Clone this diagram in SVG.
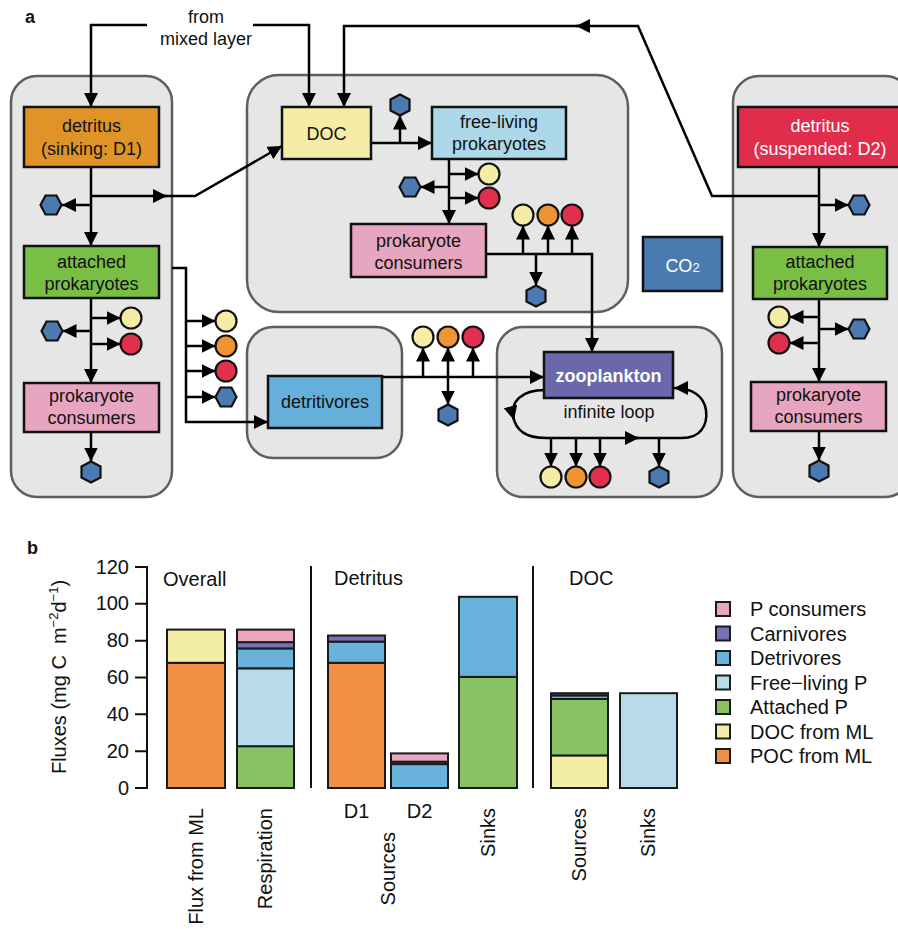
<svg xmlns="http://www.w3.org/2000/svg" xmlns:xlink="http://www.w3.org/1999/xlink" width="898" height="929" viewBox="0 0 898 929">
<style>
text{font-family:"Liberation Sans",Arial,sans-serif;fill:#111}
.t{font-size:18px;text-anchor:middle}
.w{fill:#fff}
.b{font-weight:bold}
.cont{fill:#e6e6e6;stroke:#5e5e5e;stroke-width:2.5}
.box{stroke:#111;stroke-width:2.5}
.ln{fill:none;stroke:#000;stroke-width:2.5}
.ar{marker-end:url(#ah)}
.hex{fill:#4a7ab0;stroke:#111;stroke-width:2.2}
.cy{fill:#f5eda6;stroke:#111;stroke-width:2.2}
.co{fill:#f09433;stroke:#111;stroke-width:2.2}
.cr{fill:#e0304e;stroke:#111;stroke-width:2.2}
.bar{stroke:#1a1a1a;stroke-width:2}
.ct{font-size:20px}
.ax{fill:none;stroke:#111;stroke-width:2}
</style>
<defs>
<marker id="ah" viewBox="0 0 10 10" refX="10" refY="5" markerWidth="14" markerHeight="14" markerUnits="userSpaceOnUse" orient="auto"><path d="M0,0 L10,5 L0,10 z" fill="#000"/></marker>
<polygon id="hLR" class="hex" points="-10.5,0 -5.5,-9.5 5.5,-9.5 10.5,0 5.5,9.5 -5.5,9.5"/>
<polygon id="hTB" class="hex" points="0,-10.5 9.5,-5.5 9.5,5.5 0,10.5 -9.5,5.5 -9.5,-5.5"/>
</defs>

<text x="25" y="23" class="b" style="font-size:18px">a</text>

<!-- containers -->
<g id="containers">
<rect class="cont" x="11" y="76" width="161" height="421" rx="26"/>
<rect class="cont" x="247" y="75" width="381" height="237" rx="32"/>
<rect class="cont" x="247" y="327" width="155" height="131" rx="26"/>
<rect class="cont" x="497" y="327" width="225" height="170" rx="26"/>
<rect class="cont" x="733" y="76" width="178" height="421" rx="26"/>
</g>

<text x="206" y="23" class="t">from</text>
<text x="206" y="45" class="t">mixed layer</text>

<g id="connectors">
<path class="ln ar" d="M147,25 H91 V107"/>
<path class="ln ar" d="M253,25 H309 V107"/>
<path class="ln ar" d="M819,196 H712 L638,26 H576"/>
<path class="ln ar" d="M580,26 H344 V107"/>
<path class="ln ar" d="M91,167 V246"/>
<path class="ln ar" d="M91,196 H167"/>
<path class="ln ar" d="M160,196 H195 L282,146"/>
<path class="ln ar" d="M91,205 H62"/>
<path class="ln ar" d="M91,298 V383"/>
<path class="ln ar" d="M91,318 H120.5"/>
<path class="ln ar" d="M91,344 H120.5"/>
<path class="ln ar" d="M91,331 H62.5"/>
<path class="ln ar" d="M91,432 V461.5"/>
<path class="ln ar" d="M172,268 H186 V422 H268"/>
<path class="ln ar" d="M186,321 H215.5"/>
<path class="ln ar" d="M186,346 H215.5"/>
<path class="ln ar" d="M186,371 H215.5"/>
<path class="ln ar" d="M186,397 H215.5"/>
<path class="ln ar" d="M371,143 H432"/>
<path class="ln ar" d="M400,143 V115.5"/>
<path class="ln ar" d="M449,159 V224"/>
<path class="ln ar" d="M449,174 H478.5"/>
<path class="ln ar" d="M449,198 H478.5"/>
<path class="ln ar" d="M449,187 H420.5"/>
<path class="ln ar" d="M486,254 H592 V352"/>
<path class="ln ar" d="M523,254 V225.5"/>
<path class="ln ar" d="M548,254 V225.5"/>
<path class="ln ar" d="M572,254 V225.5"/>
<path class="ln ar" d="M536,254 V285.5"/>
<path class="ln ar" d="M382,377 H544"/>
<path class="ln ar" d="M423,377 V347.5"/>
<path class="ln ar" d="M448,377 V347.5"/>
<path class="ln ar" d="M473,377 V347.5"/>
<path class="ln ar" d="M448,377 V404.5"/>
<path class="ln ar" d="M545,390 C522,390 509,401 514,420"/>
<path class="ln ar" d="M513,416 C516,431 526,438 546,438 H639"/>
<path class="ln ar" d="M632,438 H682 C700,438 708,426 706,410 C704,396 692,388 674,388"/>
<path class="ln ar" d="M551,438 V466.5"/>
<path class="ln ar" d="M576,438 V466.5"/>
<path class="ln ar" d="M600,438 V466.5"/>
<path class="ln ar" d="M659,438 V466.5"/>
<path class="ln ar" d="M819,167 V247"/>
<path class="ln ar" d="M819,205 H848.5"/>
<path class="ln ar" d="M819,299 V382"/>
<path class="ln ar" d="M819,317 H789.5"/>
<path class="ln ar" d="M819,343 H789.5"/>
<path class="ln ar" d="M819,329 H848.5"/>
<path class="ln ar" d="M819,431 V460.5"/>
</g>

<g id="products">
<use xlink:href="#hLR" x="51" y="205"/>
<circle class="cy" cx="131" cy="318" r="10.5"/>
<circle class="cr" cx="131" cy="344" r="10.5"/>
<use xlink:href="#hLR" x="52" y="331"/>
<use xlink:href="#hTB" x="91" y="472"/>
<circle class="cy" cx="226" cy="321" r="10.5"/>
<circle class="co" cx="226" cy="346" r="10.5"/>
<circle class="cr" cx="226" cy="371" r="10.5"/>
<use xlink:href="#hLR" x="226" y="397"/>
<use xlink:href="#hTB" x="400" y="105"/>
<circle class="cy" cx="489" cy="174" r="10.5"/>
<circle class="cr" cx="489" cy="198" r="10.5"/>
<use xlink:href="#hLR" x="410" y="187"/>
<circle class="cy" cx="523" cy="215" r="10.5"/>
<circle class="co" cx="548" cy="215" r="10.5"/>
<circle class="cr" cx="572" cy="215" r="10.5"/>
<use xlink:href="#hTB" x="536" y="296"/>
<circle class="cy" cx="423" cy="337" r="10.5"/>
<circle class="co" cx="448" cy="337" r="10.5"/>
<circle class="cr" cx="473" cy="337" r="10.5"/>
<use xlink:href="#hTB" x="448" y="415"/>
<circle class="cy" cx="551" cy="477" r="10.5"/>
<circle class="co" cx="576" cy="477" r="10.5"/>
<circle class="cr" cx="600" cy="477" r="10.5"/>
<use xlink:href="#hTB" x="659" y="477"/>
<use xlink:href="#hLR" x="859" y="205"/>
<circle class="cy" cx="779" cy="317" r="10.5"/>
<circle class="cr" cx="779" cy="343" r="10.5"/>
<use xlink:href="#hLR" x="859" y="329"/>
<use xlink:href="#hTB" x="819" y="471"/>
</g>

<g id="detritus-d1"><rect class="box" x="24" y="107" width="135" height="60" fill="#e09428"/>
<text x="91.5" y="132" class="t">detritus</text><text x="91.5" y="155" class="t">(sinking: D1)</text></g>
<g id="attached-left"><rect class="box" x="24" y="246" width="135" height="52" fill="#7abf45"/>
<text x="91.5" y="268" class="t">attached</text><text x="91.5" y="290" class="t">prokaryotes</text></g>
<g id="consumers-left"><rect class="box" x="24" y="383" width="135" height="49" fill="#e8a5bf"/>
<text x="91.5" y="402" class="t">prokaryote</text><text x="91.5" y="424" class="t">consumers</text></g>
<g id="doc"><rect class="box" x="282" y="107" width="89" height="52" fill="#f5eda5"/>
<text x="326.5" y="140" class="t">DOC</text></g>
<g id="free-living"><rect class="box" x="432" y="107" width="134" height="52" fill="#add8e9"/>
<text x="499" y="128" class="t">free-living</text><text x="499" y="150" class="t">prokaryotes</text></g>
<g id="consumers-mid"><rect class="box" x="351" y="224" width="135" height="53" fill="#e8a5bf"/>
<text x="418.5" y="247" class="t">prokaryote</text><text x="418.5" y="269" class="t">consumers</text></g>
<g id="co2"><rect class="box" x="643" y="237" width="79" height="54" fill="#4a7bb0"/>
<text x="682.5" y="272" class="t w">CO<tspan style="font-size:13px">2</tspan></text></g>
<g id="detritus-d2"><rect class="box" x="738" y="107" width="164" height="60" fill="#e02d4b"/>
<text x="820" y="132" class="t w">detritus</text><text x="820" y="155" class="t w">(suspended: D2)</text></g>
<g id="attached-right"><rect class="box" x="753" y="247" width="134" height="52" fill="#7abf45"/>
<text x="820" y="268" class="t">attached</text><text x="820" y="290" class="t">prokaryotes</text></g>
<g id="consumers-right"><rect class="box" x="751" y="382" width="135" height="49" fill="#e8a5bf"/>
<text x="818.5" y="401" class="t">prokaryote</text><text x="818.5" y="423" class="t">consumers</text></g>
<g id="detritivores"><rect class="box" x="268" y="376" width="114" height="52" fill="#64b0da"/>
<text x="325" y="408" class="t">detritivores</text></g>
<g id="zooplankton"><rect class="box" x="544" y="352" width="129" height="46" fill="#6a67ab"/>
<text x="608.5" y="382" class="t w b">zooplankton</text></g>
<text x="609" y="418" class="t">infinite loop</text>

<!-- panel b -->
<g id="chart">
<text x="27" y="554" class="b" style="font-size:18px">b</text>
<path class="ax" d="M135,567 H147 V788 H135 M135,751.2 H147 M135,714.3 H147 M135,677.5 H147 M135,640.7 H147 M135,603.8 H147"/>
<g class="ct" style="text-anchor:end">
<text x="129" y="795">0</text><text x="129" y="758">20</text><text x="129" y="721">40</text><text x="129" y="684">60</text><text x="129" y="647">80</text><text x="129" y="610">100</text><text x="129" y="574">120</text>
</g>
<text class="ct" transform="translate(66,677) rotate(-90)" text-anchor="middle">Fluxes (mg C&#160; m<tspan dy="-8" style="font-size:13px">−2</tspan><tspan dy="8">d</tspan><tspan dy="-8" style="font-size:13px">−1</tspan><tspan dy="8">)</tspan></text>
<path class="ax" d="M311,566 V788 M533,566 V788"/>
<text x="163" y="586" class="ct">Overall</text>
<text x="334" y="585" class="ct">Detritus</text>
<text x="569" y="585" class="ct">DOC</text>

<!-- Flux from ML -->
<rect class="bar" x="167" y="662.8" width="58" height="125.2" fill="#f09045"/>
<rect class="bar" x="167" y="629.6" width="58" height="33.2" fill="#f3eda7"/>
<!-- Respiration -->
<rect class="bar" x="237" y="746.2" width="57" height="41.8" fill="#89c264"/>
<rect class="bar" x="237" y="668.3" width="57" height="77.9" fill="#b7dbe9"/>
<rect class="bar" x="237" y="648.4" width="57" height="19.9" fill="#68b2db"/>
<rect class="bar" x="237" y="642.1" width="57" height="6.3" fill="#7571b3"/>
<rect class="bar" x="237" y="629.6" width="57" height="12.5" fill="#e8a6bf"/>
<!-- D1 -->
<rect class="bar" x="328" y="662.8" width="57" height="125.2" fill="#f09045"/>
<rect class="bar" x="328" y="641.6" width="57" height="21.2" fill="#68b2db"/>
<rect class="bar" x="328" y="635.5" width="57" height="6.1" fill="#7571b3"/>
<!-- D2 -->
<rect class="bar" x="391" y="764.1" width="57" height="23.9" fill="#68b2db"/>
<rect class="bar" x="391" y="761.7" width="57" height="2.4" fill="#7571b3"/>
<rect class="bar" x="391" y="753.4" width="57" height="8.3" fill="#e8a6bf"/>
<!-- Sinks detritus -->
<rect class="bar" x="459" y="676.9" width="58" height="111.1" fill="#89c264"/>
<rect class="bar" x="459" y="596.8" width="58" height="80.1" fill="#68b2db"/>
<!-- DOC sources -->
<rect class="bar" x="551" y="755.4" width="57" height="32.6" fill="#f3eda7"/>
<rect class="bar" x="551" y="699" width="57" height="56.4" fill="#89c264"/>
<rect class="bar" x="551" y="695.4" width="57" height="3.6" fill="#68b2db"/>
<rect class="bar" x="551" y="693.2" width="57" height="2.2" fill="#7571b3"/>
<!-- DOC sinks -->
<rect class="bar" x="620" y="693.2" width="57" height="94.8" fill="#b7dbe9"/>

<!-- x labels -->
<g class="ct" text-anchor="end">
<text transform="translate(203,808) rotate(-90)">Flux from ML</text>
<text transform="translate(272,808) rotate(-90)">Respiration</text>
<text transform="translate(395,832) rotate(-90)">Sources</text>
<text transform="translate(495,808) rotate(-90)">Sinks</text>
<text transform="translate(586,808) rotate(-90)">Sources</text>
<text transform="translate(655,808) rotate(-90)">Sinks</text>
</g>
<text x="356.5" y="818" class="ct" text-anchor="middle">D1</text>
<text x="419.5" y="818" class="ct" text-anchor="middle">D2</text>

<!-- legend -->
<g id="legend">
<rect class="bar" x="716" y="602" width="14" height="14" fill="#e8a6bf"/>
<rect class="bar" x="716" y="626.5" width="14" height="14" fill="#7571b3"/>
<rect class="bar" x="716" y="651" width="14" height="14" fill="#68b2db"/>
<rect class="bar" x="716" y="675.5" width="14" height="14" fill="#b7dbe9"/>
<rect class="bar" x="716" y="700" width="14" height="14" fill="#89c264"/>
<rect class="bar" x="716" y="724.5" width="14" height="14" fill="#f3eda7"/>
<rect class="bar" x="716" y="749" width="14" height="14" fill="#f09045"/>
<text x="750" y="616" class="ct">P consumers</text>
<text x="750" y="640.5" class="ct">Carnivores</text>
<text x="750" y="665" class="ct">Detrivores</text>
<text x="750" y="689.5" class="ct">Free−living P</text>
<text x="750" y="714" class="ct">Attached P</text>
<text x="750" y="738.5" class="ct">DOC from ML</text>
<text x="750" y="763" class="ct">POC from ML</text>
</g>
</g>
</svg>
